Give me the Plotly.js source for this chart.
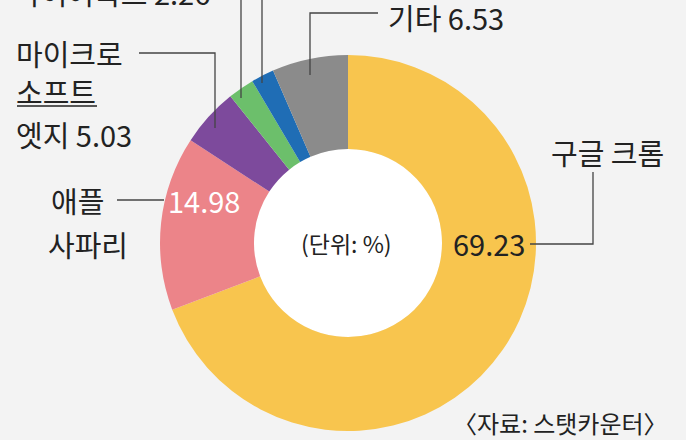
<!DOCTYPE html>
<html>
<head>
<meta charset="utf-8">
<script src="https://cdn.plot.ly/plotly-3.0.1.min.js"></script>
<style>
  html, body { margin: 0; padding: 0; background: #f3f3f3; }
  #chart { width: 686px; height: 440px; }
</style>
</head>
<body>
<div id="chart"></div>
<script>
// browser share, clockwise from 12 o'clock
var browsers = ['구글 크롬', '애플 사파리', '마이크로소프트 엣지', '파이어폭스', '삼성 인터넷', '기타'];
var shares = [69.23, 14.98, 5.03, 2.26, 1.97, 6.53];
var sliceColors = ['#f8c54e', '#ec8489', '#7d4a9c', '#6cbf6b', '#1f6db5', '#8b8b8b'];

var W = 686, H = 440;
function px(x) { return x / W; }
function py(y) { return 1 - y / H; }

var cx = 348, cy = 243, R = 188, r = 94;
var FONT = 'Noto Sans CJK KR, sans-serif';
var INK = '#222';

var trace = {
    type: 'pie',
    labels: browsers,
    values: shares,
    sort: false,
    direction: 'clockwise',
    rotation: 0,
    hole: r / R,
    textinfo: 'none',
    hoverinfo: 'label+value',
    marker: { colors: sliceColors, line: { width: 0 } },
    domain: {
        x: [px(cx - R), px(cx + R)],
        y: [py(cy + R), py(cy - R)]
    },
    showlegend: false
};

function note(text, x, y, opts) {
    opts = opts || {};
    return {
        text: text, xref: 'paper', yref: 'paper',
        x: px(x), y: py(y),
        xanchor: opts.xanchor || 'left', yanchor: 'middle',
        showarrow: false, align: opts.align || 'left',
        font: { family: FONT, size: opts.size || 29, color: opts.color || INK }
    };
}

function lead(pts) {
    var d = 'M' + pts.map(function (p) { return px(p[0]) + ',' + py(p[1]); }).join(' L');
    return { type: 'path', xref: 'paper', yref: 'paper', path: d, line: { color: '#444', width: 1.3 } };
}

var annotations = [
    note('파이어폭스 ' + shares[3].toFixed(2), 12, -8),
    note('기타 ' + shares[5].toFixed(2), 386, 17),
    note('마이크로', 14, 53),
    note('소프트', 14, 91),
    note('엣지 ' + shares[2].toFixed(2), 14, 134),
    note('애플', 49, 200),
    note('사파리', 46, 244),
    note(shares[1].toFixed(2), 166, 200, { color: '#ffffff' }),
    note('구글 크롬', 549, 152),
    note(shares[0].toFixed(2), 451, 243),
    note('(단위: %)', 346, 243, { xanchor: 'center', size: 23 }),
    note('〈자료: 스탯카운터〉', 670, 422, { xanchor: 'right', size: 24 })
];

var shapes = [
    { type: 'circle', xref: 'paper', yref: 'paper', layer: 'below',
      x0: px(cx - r), x1: px(cx + r), y0: py(cy + r), y1: py(cy - r),
      fillcolor: '#ffffff', line: { width: 0 } },
    lead([[139, 53], [215, 53], [215, 128]]),
    lead([[241, -2], [241, 98]]),
    lead([[262, -2], [262, 83]]),
    lead([[378, 13], [310, 13], [310, 75]]),
    lead([[117, 200], [164, 200]]),
    lead([[530, 244], [593, 244], [593, 172]]),
    { type: 'line', xref: 'paper', yref: 'paper',
      x0: px(17), x1: px(97), y0: py(106), y1: py(106), line: { color: INK, width: 1.5 } }
];

var layout = {
    width: W, height: H,
    margin: { l: 0, r: 0, t: 0, b: 0 },
    paper_bgcolor: '#f3f3f3',
    annotations: annotations,
    shapes: shapes
};

Plotly.newPlot('chart', [trace], layout, { staticPlot: true });
</script>
</body>
</html>
